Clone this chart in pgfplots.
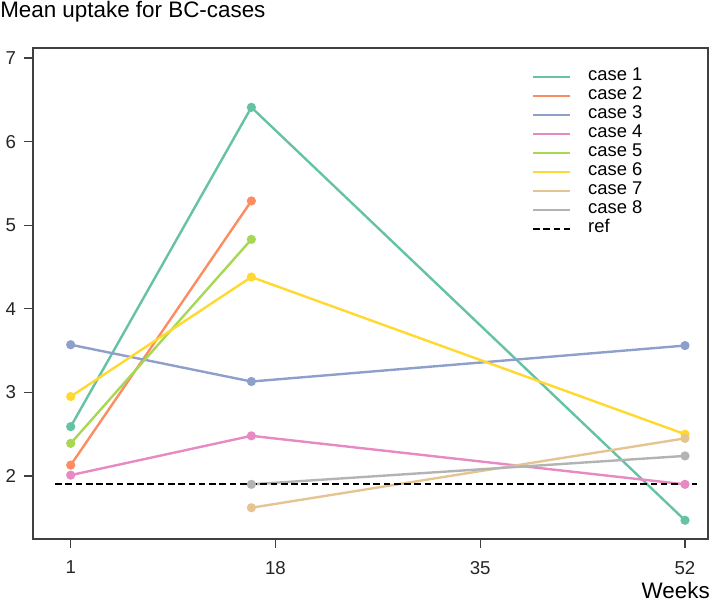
\documentclass[border=0pt]{standalone}
\usepackage{pgfplots}
\pgfplotsset{compat=1.18}
\usepackage{fontspec}
\setmainfont{Liberation Sans}
\definecolor{c1}{HTML}{66C2A5}
\definecolor{c2}{HTML}{FC8D62}
\definecolor{c3}{HTML}{8DA0CB}
\definecolor{c4}{HTML}{E78AC3}
\definecolor{c5}{HTML}{A6D854}
\definecolor{c6}{HTML}{FFD92F}
\definecolor{c7}{HTML}{E5C494}
\definecolor{c8}{HTML}{B3B3B3}
\pgfplotsset{
  caseline/.style={#1, line width=1.8pt, mark=*, mark size=2.5pt, mark options={solid, fill=#1, draw=#1}},
}
\begin{document}
\begin{tikzpicture}
\useasboundingbox (-24.75pt,-48pt) rectangle (510.75pt,404.25pt);
\begin{axis}[
  at={(0,0)}, anchor=south west,
  scale only axis, width=506.25pt, height=368.25pt,
  xmin=-2.13, xmax=53.91, ymin=1.246, ymax=7.12,
  xtick={1,18,35,52}, ytick={2,3,4,5,6,7},
  tick pos=left, tick align=outside,
  major tick length=7pt,
  axis line style={black!75, line width=0.9pt},
  tick style={black!75, line width=0.9pt},
  tick label style={font=\fontsize{14}{16}\selectfont, text=black!85},
  xticklabel style={yshift=-6pt},
  yticklabel style={xshift=-2.25pt},
  /pgf/number format/assume math mode=true,
  legend cell align=left,
  legend style={draw=none, fill=none, at={(rel axis cs:0.739,0.961)}, anchor=north west,
    inner sep=0pt, font=\fontsize{13.8}{16}\selectfont,
    nodes={inner sep=0pt, text height=9.75pt, text depth=4.5pt},
    /tikz/every odd column/.append style={column sep=12.75pt}},
  legend image code/.code={\draw[#1, mark=none, line width=1.6pt] (0pt,0pt) -- (27.75pt,0pt);},
]
\addplot[caseline=c1] coordinates {(1,2.59) (16,6.41) (52,1.47)};
\addlegendentry{case 1}
\addplot[caseline=c2] coordinates {(1,2.13) (16,5.29)};
\addlegendentry{case 2}
\addplot[caseline=c3] coordinates {(1,3.57) (16,3.13) (52,3.56)};
\addlegendentry{case 3}
\addplot[caseline=c4] coordinates {(1,2.01) (16,2.48) (52,1.90)};
\addlegendentry{case 4}
\addplot[caseline=c5] coordinates {(1,2.39) (16,4.83)};
\addlegendentry{case 5}
\addplot[caseline=c6] coordinates {(1,2.95) (16,4.38) (52,2.50)};
\addlegendentry{case 6}
\addplot[caseline=c7] coordinates {(16,1.62) (52,2.45)};
\addlegendentry{case 7}
\addplot[caseline=c8] coordinates {(16,1.90) (52,2.24)};
\addlegendentry{case 8}
\addplot[black, line width=1.6pt, dash pattern=on 5pt off 2.7pt] coordinates {(-0.3,1.90) (53,1.90)};
\addlegendentry{ref}
\end{axis}
\node[anchor=base west, inner sep=0pt, font=\fontsize{16.8}{20}\selectfont] at (-24.75pt,391.1pt) {Mean uptake for BC-cases};
\node[anchor=base east, inner sep=0pt, font=\fontsize{16.8}{19}\selectfont] at (507.75pt,-45pt) {Weeks};
\end{tikzpicture}
\end{document}
